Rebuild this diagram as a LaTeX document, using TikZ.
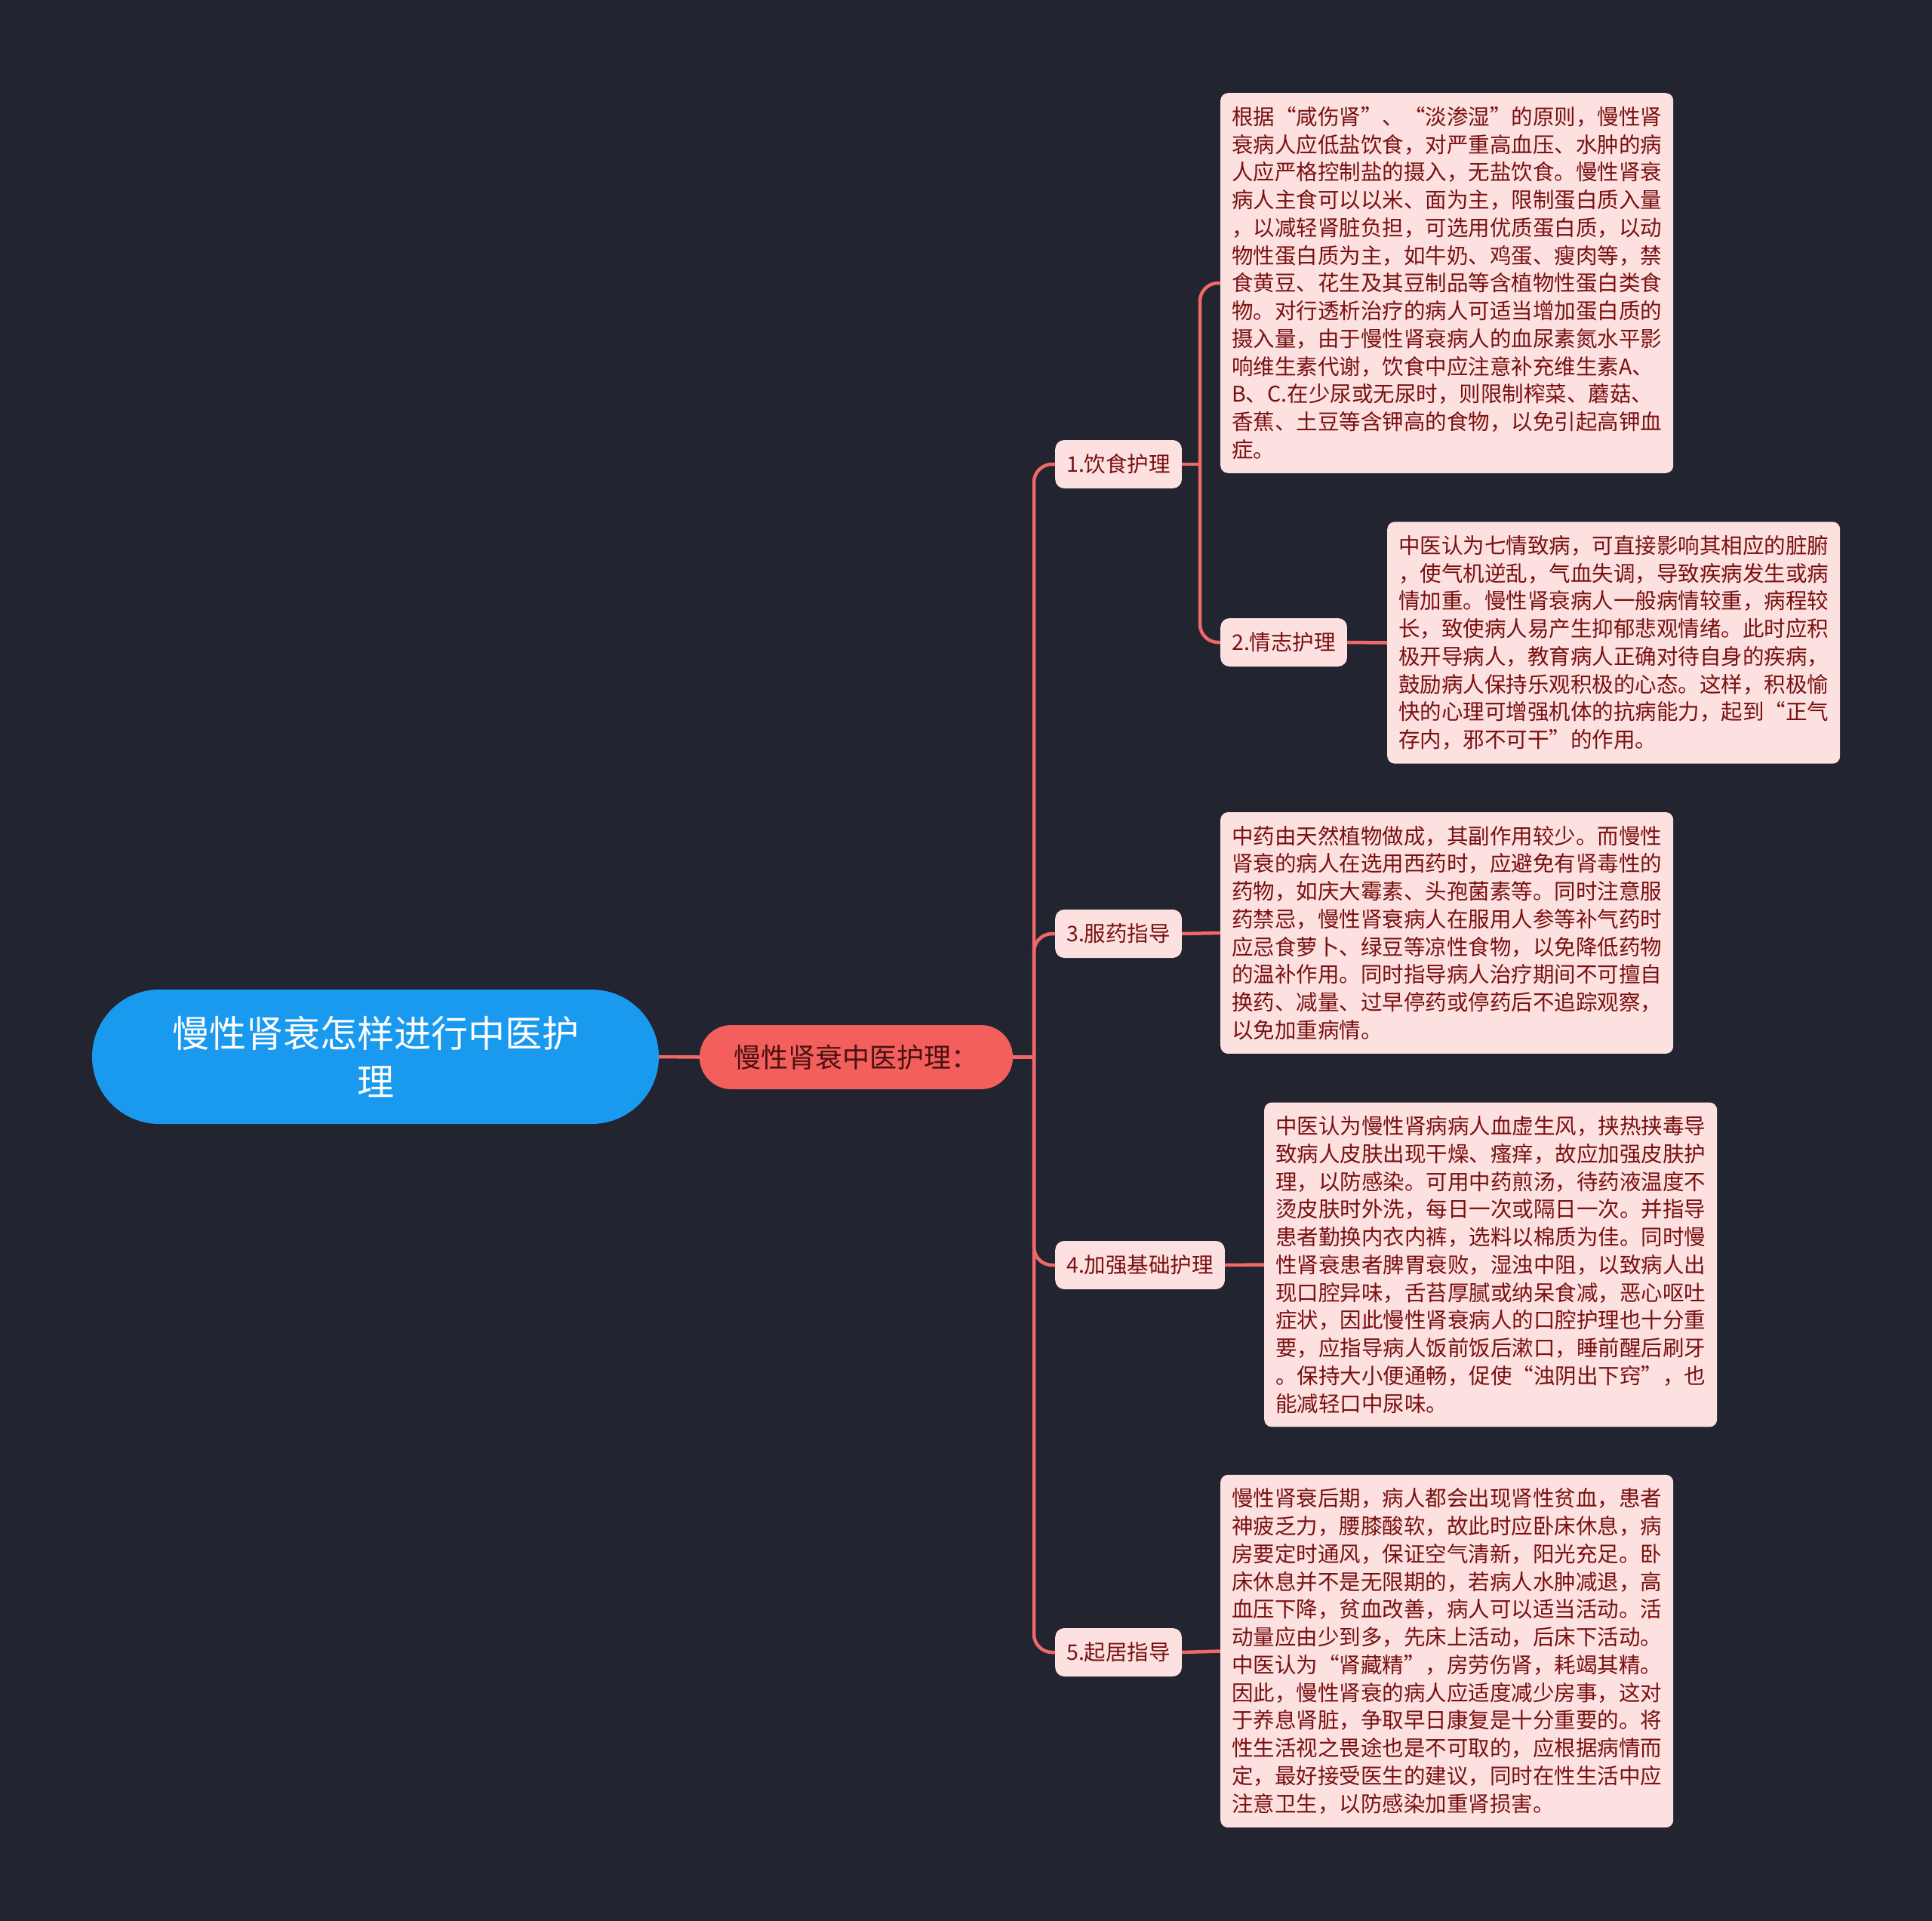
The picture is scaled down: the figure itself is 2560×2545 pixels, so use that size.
\documentclass[tikz,border=0pt]{standalone}
\usepackage{fontspec}
\setmainfont{Noto Sans CJK SC}
\usepackage{tikz}
\definecolor{bgdark}{HTML}{222430}
\definecolor{rootblue}{HTML}{1A9AEF}
\definecolor{mainred}{HTML}{F25F5C}
\definecolor{leafpink}{HTML}{FDE1E1}
\definecolor{leaftext}{HTML}{7A1010}
\definecolor{maintext}{HTML}{4A1010}
\definecolor{linkred}{HTML}{F06868}

\begin{document}
\begin{tikzpicture}[x=1pt,y=-1pt,
    link/.style={draw=linkred,line width=4.5pt},
    curvelink/.style={link,rounded corners=24pt},
    topic/.style={fill=leafpink,text=leaftext,rounded corners=12pt,minimum height=64pt,
      inner xsep=15pt,inner ysep=0pt,anchor=west,font=\fontsize{28.5}{36.75}\selectfont},
    note/.style={fill=leafpink,text=leaftext,rounded corners=10pt,text width=570pt,
      inner xsep=15pt,inner ysep=18pt,align=left,anchor=west,font=\fontsize{28.5}{36.75}\selectfont}]
      \fill[bgdark] (0,0) rectangle (2560,2545);
      % centre
      \node[fill=rootblue,text=white,rounded corners=89pt,minimum width=751pt,minimum height=178pt,
        align=center,font=\fontsize{49}{64}\selectfont] (root) at (497.5,1400) {慢性肾衰怎样进行中医护\\理};
      \node[fill=mainred,text=maintext,rounded corners=42pt,minimum width=415pt,minimum height=85pt,
        font=\fontsize{36}{44}\selectfont] (main) at (1134.5,1400.5) {慢性肾衰中医护理：};
      % topics
      \node[topic] (b1) at (1398,615) {1.饮食护理};
      \node[topic] (b2) at (1617,851) {2.情志护理};
      \node[topic] (b3) at (1398,1237) {3.服药指导};
      \node[topic] (b4) at (1398,1676) {4.加强基础护理};
      \node[topic] (b5) at (1398,2189) {5.起居指导};
      % notes
      \node[note] (t1) at (1617,375) {根据“咸伤肾”、“淡渗湿”的原则，慢性肾\\衰病人应低盐饮食，对严重高血压、水肿的病\\人应严格控制盐的摄入，无盐饮食。慢性肾衰\\病人主食可以以米、面为主，限制蛋白质入量\\，以减轻肾脏负担，可选用优质蛋白质，以动\\物性蛋白质为主，如牛奶、鸡蛋、瘦肉等，禁\\食黄豆、花生及其豆制品等含植物性蛋白类食\\物。对行透析治疗的病人可适当增加蛋白质的\\摄入量，由于慢性肾衰病人的血尿素氮水平影\\响维生素代谢，饮食中应注意补充维生素A、\\B、C.在少尿或无尿时，则限制榨菜、蘑菇、\\香蕉、土豆等含钾高的食物，以免引起高钾血\\症。};
      \node[note] (t2) at (1838,851.5) {中医认为七情致病，可直接影响其相应的脏腑\\，使气机逆乱，气血失调，导致疾病发生或病\\情加重。慢性肾衰病人一般病情较重，病程较\\长，致使病人易产生抑郁悲观情绪。此时应积\\极开导病人，教育病人正确对待自身的疾病，\\鼓励病人保持乐观积极的心态。这样，积极愉\\快的心理可增强机体的抗病能力，起到“正气\\存内，邪不可干”的作用。};
      \node[note] (t3) at (1617,1236) {中药由天然植物做成，其副作用较少。而慢性\\肾衰的病人在选用西药时，应避免有肾毒性的\\药物，如庆大霉素、头孢菌素等。同时注意服\\药禁忌，慢性肾衰病人在服用人参等补气药时\\应忌食萝卜、绿豆等凉性食物，以免降低药物\\的温补作用。同时指导病人治疗期间不可擅自\\换药、减量、过早停药或停药后不追踪观察，\\以免加重病情。};
      \node[note] (t4) at (1675,1675.5) {中医认为慢性肾病病人血虚生风，挟热挟毒导\\致病人皮肤出现干燥、瘙痒，故应加强皮肤护\\理，以防感染。可用中药煎汤，待药液温度不\\烫皮肤时外洗，每日一次或隔日一次。并指导\\患者勤换内衣内裤，选料以棉质为佳。同时慢\\性肾衰患者脾胃衰败，湿浊中阻，以致病人出\\现口腔异味，舌苔厚腻或纳呆食减，恶心呕吐\\症状，因此慢性肾衰病人的口腔护理也十分重\\要，应指导病人饭前饭后漱口，睡前醒后刷牙\\。保持大小便通畅，促使“浊阴出下窍”，也\\能减轻口中尿味。};
      \node[note] (t5) at (1617,2187.5) {慢性肾衰后期，病人都会出现肾性贫血，患者\\神疲乏力，腰膝酸软，故此时应卧床休息，病\\房要定时通风，保证空气清新，阳光充足。卧\\床休息并不是无限期的，若病人水肿减退，高\\血压下降，贫血改善，病人可以适当活动。活\\动量应由少到多，先床上活动，后床下活动。\\中医认为“肾藏精”，房劳伤肾，耗竭其精。\\因此，慢性肾衰的病人应适度减少房事，这对\\于养息肾脏，争取早日康复是十分重要的。将\\性生活视之畏途也是不可取的，应根据病情而\\定，最好接受医生的建议，同时在性生活中应\\注意卫生，以防感染加重肾损害。};
      % connectors
      \coordinate (trunk) at (1370,1400.5);
      \coordinate (fork) at (1590,615);
      \draw[link] (root.east) -- (main.west);
      \draw[link] (main.east) -- (trunk);
      \foreach \b in {b1,b3,b4,b5}{
        \draw[curvelink] (trunk) |- (\b.west);
      }
      \draw[link] (b1.east) -- (fork);
      \draw[curvelink] (fork) |- (t1.west);
      \draw[curvelink] (fork) |- (b2.west);
      \foreach \b/\t in {b2/t2,b3/t3,b4/t4,b5/t5}{
        \draw[link] (\b.east) -- (\t.west);
      }
\end{tikzpicture}
\end{document}
